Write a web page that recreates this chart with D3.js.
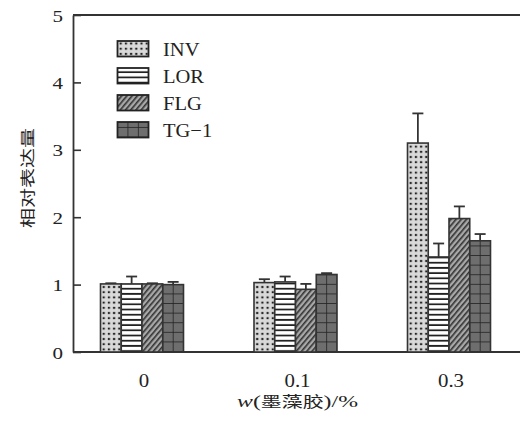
<!DOCTYPE html>
<html>
<head>
<meta charset="utf-8">
<script src="https://cdn.jsdelivr.net/npm/d3@7"></script>
<style>
  body { margin: 0; background: #fff; }
  text { font-family: "Liberation Serif", "DejaVu Serif", serif; fill: #222; }
</style>
</head>
<body>
<svg id="chart" width="520" height="426"></svg>
<script>
// data
var groups = ["0", "0.1", "0.3"];
var series = ["INV", "LOR", "FLG", "TG\u22121"];
var INV = [1.01, 1.03, 3.10];
var LOR = [1.01, 1.04, 1.41];
var FLG = [1.01, 0.93, 1.98];
var TG1 = [1.00, 1.15, 1.65];
var errINV = [0.01, 0.05, 0.44];
var errLOR = [0.11, 0.08, 0.20];
var errFLG = [0.01, 0.08, 0.18];
var errTG1 = [0.04, 0.02, 0.10];
var yTicks = [0, 1, 2, 3, 4, 5];

var values = [INV, LOR, FLG, TG1];
var errors = [errINV, errLOR, errFLG, errTG1];
var patType = ["dots", "hlines", "diag", "grid"];

var svg = d3.select("#chart");
var defs = svg.append("defs");

var plotLeft = 73, plotTop = 15, plotBottom = 352, plotRight = 520;

var y = d3.scaleLinear().domain([0, 5]).range([plotBottom, plotTop]);
var x0 = d3.scalePoint().domain(groups).range([142, 449]);
var x1 = d3.scaleBand().domain(series).range([-41.5, 41.5]);

var patCount = 0;
// builds a fill pattern anchored at (ox, oy) so each bar starts clean
function makePattern(type, ox, oy) {
    var id = "pat" + (patCount++);
    var p = defs.append("pattern").attr("id", id)
        .attr("patternUnits", "userSpaceOnUse")
        .attr("x", ox).attr("y", oy);
    if (type == "dots") {
        p.attr("width", 5.2).attr("height", 5.2);
        p.append("rect").attr("width", 5.2).attr("height", 5.2).attr("fill", "#d9d9d9");
        p.append("rect").attr("x", 1.6).attr("y", 1.6).attr("width", 2.2).attr("height", 2)
            .attr("fill", "#222");
    } else if (type == "hlines") {
        p.attr("width", 10).attr("height", 5.2);
        p.append("rect").attr("width", 10).attr("height", 5.2).attr("fill", "#fff");
        p.append("rect").attr("y", 3.4).attr("width", 10).attr("height", 1.8).attr("fill", "#222");
    } else if (type == "diag") {
        p.attr("width", 4).attr("height", 4).attr("patternTransform", "rotate(40)");
        p.append("rect").attr("width", 4).attr("height", 4).attr("fill", "#a8a8a8");
        p.append("rect").attr("width", 1.6).attr("height", 4).attr("fill", "#333");
    } else if (type == "grid") {
        p.attr("width", 10.4).attr("height", 9.6);
        p.append("rect").attr("width", 10.4).attr("height", 9.6).attr("fill", "#6e6e6e");
        p.append("rect").attr("x", 9.6).attr("width", 1.6).attr("height", 9.6).attr("fill", "#222");
        p.append("rect").attr("y", 8.8).attr("width", 10.4).attr("height", 1.6).attr("fill", "#222");
    }
    return "url(#" + id + ")";
}

// the source's lettering is drawn wide, so texts get a horizontal stretch
function placeText(t, x, y, k, rot) {
    t.attr("x", 0).attr("y", 0)
     .attr("transform", "translate(" + x + "," + y + ")" + (rot ? " rotate(" + rot + ")" : "") +
           " scale(" + k + ",1)");
}
function fitText(t, x, y, width, rot) {
    var w = t.node().getComputedTextLength();
    placeText(t, x, y, width / w, rot);
}

// frame
svg.append("line").attr("x1", plotLeft).attr("x2", plotRight).attr("y1", plotTop).attr("y2", plotTop)
    .attr("stroke", "#333").attr("stroke-width", 1.8);
svg.append("line").attr("x1", plotLeft).attr("x2", plotRight).attr("y1", plotBottom).attr("y2", plotBottom)
    .attr("stroke", "#333").attr("stroke-width", 1.8);

// y axis with inward ticks
var yAxis = svg.append("g").attr("transform", "translate(" + plotLeft + ",0)")
    .call(d3.axisLeft(y).tickValues(yTicks).tickFormat(d3.format("d"))
          .tickSizeInner(-8).tickSizeOuter(0).tickPadding(10));
yAxis.select(".domain").attr("stroke", "#333").attr("stroke-width", 1.8);
yAxis.selectAll(".tick line").attr("stroke", "#333").attr("stroke-width", 1.6);
yAxis.selectAll(".tick text")
    .attr("font-size", 17.5).attr("dy", "0.35em").attr("x", -10 / 1.2)
    .attr("transform", "scale(1.2,1)")
    .style("font-family", "'Liberation Serif', serif").attr("fill", "#222");

// bars
var bars = [];
for (var s = 0; s < series.length; ++s) {
    for (var g = 0; g < groups.length; ++g) {
        bars.push({s: s, g: g, v: values[s][g], e: errors[s][g]});
    }
}

var barG = svg.append("g");
bars.forEach(function(d) {
    var bx = x0(groups[d.g]) + x1(series[d.s]);
    var bw = x1.bandwidth();
    // error bar first so the bar outline covers its foot
    var ey = y(d.v + d.e);
    barG.append("line").attr("x1", bx + bw / 2).attr("x2", bx + bw / 2)
        .attr("y1", y(d.v)).attr("y2", ey)
        .attr("stroke", "#333").attr("stroke-width", 1.8);
    barG.append("line").attr("x1", bx + bw / 2 - 5.5).attr("x2", bx + bw / 2 + 5.5)
        .attr("y1", ey).attr("y2", ey)
        .attr("stroke", "#333").attr("stroke-width", 1.8);
    barG.append("rect")
        .attr("x", bx).attr("y", y(d.v))
        .attr("width", bw).attr("height", y(0) - y(d.v))
        .attr("fill", makePattern(patType[d.s], bx + 0.5, y(0)))
        .attr("stroke", "#333").attr("stroke-width", 1.6);
});

// x labels
svg.append("g").selectAll("text").data(groups).enter().append("text")
    .attr("text-anchor", "middle")
    .attr("font-size", 18.5)
    .text(function(d) { return d; })
    .each(function(d) { placeText(d3.select(this), x0(d) + 2, 387, 1.13); });

// axis titles
var xt = svg.append("text").attr("text-anchor", "middle").attr("font-size", 16.5);
xt.append("tspan").attr("font-style", "italic").text("w");
xt.append("tspan").text("(");
xt.append("tspan").style("font-family", "'Noto Sans CJK SC', sans-serif")
    .attr("font-size", 14.5).attr("dy", -0.5).text("墨藻胶");
xt.append("tspan").attr("dy", 0.5).text(")/%");
fitText(xt, 297.5, 407, 121);

var yt = svg.append("text")
    .attr("text-anchor", "middle")
    .style("font-family", "'Noto Sans CJK SC', sans-serif")
    .attr("font-size", 15)
    .attr("fill", "#444")
    .text("相对表达量");
fitText(yt, 32.5, 178, 100, -90);

// legend
var legend = svg.append("g");
series.forEach(function(name, i) {
    var ly = 41 + i * 27;
    legend.append("rect").attr("x", 117.5).attr("y", ly)
        .attr("width", 31).attr("height", 15.5)
        .attr("fill", makePattern(patType[i], 118, ly + 15.5))
        .attr("stroke", "#222").attr("stroke-width", 1.8);
    var t = legend.append("text").attr("font-size", 19).text(name);
    placeText(t, 163, ly + 15, 1.08);
});
</script>
</body>
</html>
